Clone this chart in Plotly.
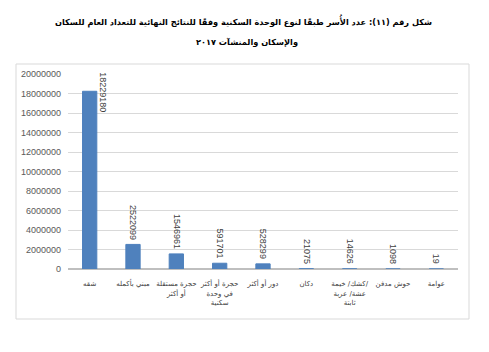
import plotly.graph_objects as go

categories = ["شقه", "مبني بأكمله", "حجرة مستقلة<br>أو أكثر", "حجرة أو أكثر<br>في وحدة<br>سكنية",
              "دور أو أكثر", "دكان", "كشك/ خيمة/<br>عشة/ عربة<br>ثابتة", "حوش مدفن", "عوامة"]
values = [18229180, 2522099, 1546961, 591701, 528299, 21075, 14626, 1098, 19]
y_ticks = list(range(0, 20000001, 2000000))

title_line1 = "شكل رقم (١١): عدد الأُسر طبقًا لنوع الوحدة السكنية وفقًا للنتائج النهائية للتعداد العام للسكان"
title_line2 = "والإسكان والمنشآت ٢٠١٧"

fig = go.Figure()
fig.add_trace(go.Bar(
    x=categories, y=values,
    marker=dict(color="#4f81bd", line=dict(color="#4f81bd", width=1)),
    width=0.33,
))

# data labels (rotated, reading top to bottom)
for i, (c, v) in enumerate(zip(categories, values)):
    if i == 0:
        fig.add_annotation(x=c, y=20000000, text=str(v), textangle=90, showarrow=False,
                           xanchor="center", yanchor="top", xshift=13, yshift=4,
                           font=dict(family="Liberation Sans", size=9, color="#404040"))
    else:
        fig.add_annotation(x=c, y=v, text=str(v), textangle=90, showarrow=False,
                           xanchor="center", yanchor="bottom", yshift=3,
                           font=dict(family="Liberation Sans", size=9, color="#404040"))

L, R, T, B = 68, 31, 74, 83
W, H = 489, 352
pw, ph = W - L - R, H - T - B

def px(x):
    return (x - L) / pw

def py(y):
    return (H - B - y) / ph

fig.add_shape(type="rect", xref="paper", yref="paper",
              x0=px(16), x1=px(469), y0=py(319), y1=py(64),
              line=dict(color="#d9d9d9", width=1), layer="below")

fig.add_annotation(text=title_line1, xref="paper", yref="paper", x=px(243), y=py(21),
                   showarrow=False, xanchor="center", yanchor="middle",
                   font=dict(family="DejaVu Sans", size=8.2, color="#000000", weight="bold"))
fig.add_annotation(text=title_line2, xref="paper", yref="paper", x=px(247), y=py(43),
                   showarrow=False, xanchor="center", yanchor="middle",
                   font=dict(family="DejaVu Sans", size=8.2, color="#000000", weight="bold"))

fig.update_layout(
    width=W, height=H,
    margin=dict(l=L, r=R, t=T, b=B, pad=0),
    paper_bgcolor="white", plot_bgcolor="white",
    showlegend=False,
    xaxis=dict(showgrid=False, showline=True, linecolor="#bfbfbf", linewidth=1,
               tickfont=dict(family="DejaVu Sans", size=7, color="#404040"),
               tickangle=0, ticks="", ticklabelstandoff=8),
    yaxis=dict(range=[0, 20000000], tickvals=y_ticks, tickformat="d",
               showgrid=True, gridcolor="#d9d9d9", gridwidth=1,
               zeroline=True, zerolinecolor="#bfbfbf",
               tickfont=dict(family="Liberation Sans", size=9, color="#595959"),
               ticks="", showline=False, ticklabelstandoff=6),
    font=dict(family="DejaVu Sans"),
)

fig.write_html("out.html")
